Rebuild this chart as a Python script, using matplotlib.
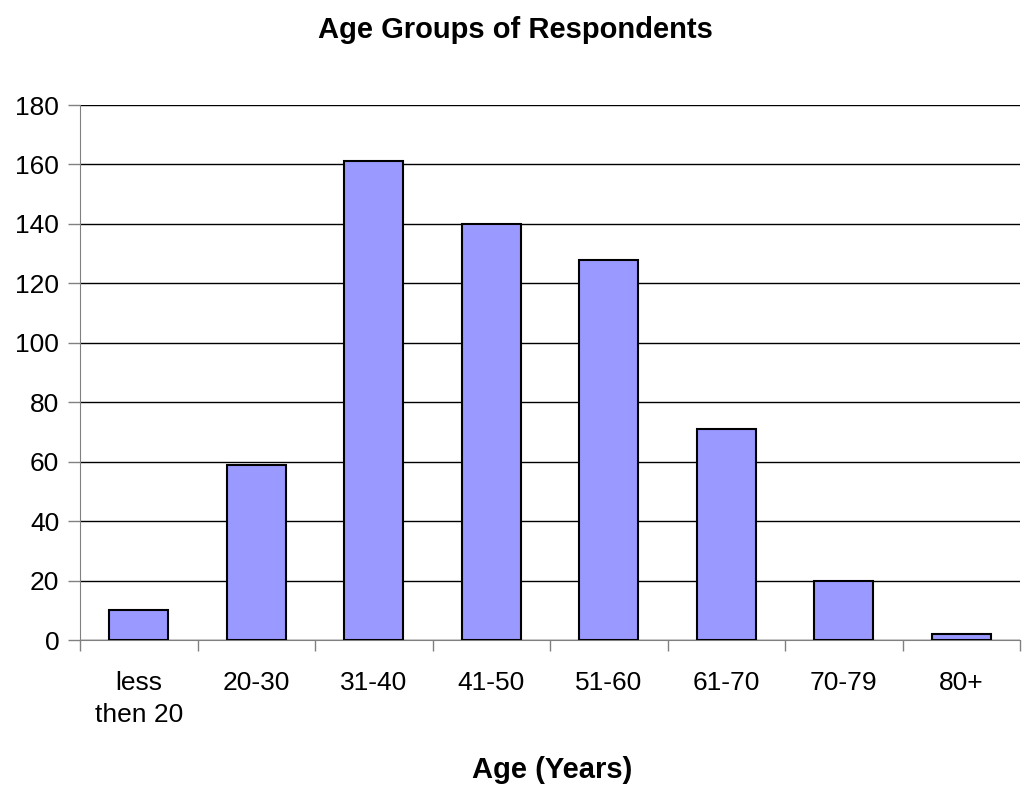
import matplotlib
matplotlib.use("Agg")
import matplotlib.pyplot as plt
import numpy as np

categories = ["less\nthen 20", "20-30", "31-40", "41-50", "51-60", "61-70", "70-79", "80+"]
values = [10, 59, 161, 140, 128, 71, 20, 2]
yticks = [0, 20, 40, 60, 80, 100, 120, 140, 160, 180]

plt.rcParams['font.family'] = ['Liberation Sans', 'DejaVu Sans']

fig = plt.figure(figsize=(10.25, 7.85), dpi=100)
ax = fig.add_axes([80/1025, 1 - 640/785, 940/1025, 535/785])

x = np.arange(len(categories))
ax.bar(x, values, width=0.5, color="#9999FF", edgecolor="black", linewidth=1.5, zorder=3)

ax.set_xlim(-0.5, len(categories) - 0.5)
ax.set_ylim(0, 180)
ax.set_yticks(yticks)
ax.set_yticklabels([str(v) for v in yticks], fontsize=19)
ax.yaxis.grid(True, color="black", linewidth=1, zorder=0)

ax.set_xticks(x)
ax.set_xticklabels(categories, fontsize=19, linespacing=1.45)
ax.tick_params(axis='x', length=0, pad=22)
ax.set_xticks(np.arange(-0.5, len(categories)), minor=True)
ax.tick_params(axis='x', which='minor', length=8, color="#808080", width=1)
ax.tick_params(axis='y', length=9, color="#808080", width=1, pad=6)

for s in ["top", "right"]:
    ax.spines[s].set_visible(False)
ax.spines["left"].set_color("#808080")
ax.spines["bottom"].set_color("#808080")
ax.spines["left"].set_zorder(4)

fig.text(515/1025, 1 - 30/785, "Age Groups of Respondents", ha="center", va="center",
         fontsize=21, fontweight="bold")
fig.text(552/1025, 1 - 770/785, "Age (Years)", ha="center", va="center",
         fontsize=21, fontweight="bold")

fig.savefig("out.png", dpi=100)
